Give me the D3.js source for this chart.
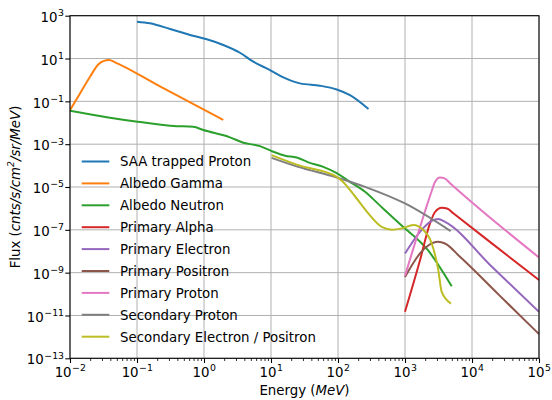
<!DOCTYPE html>
<html lang="en">
<head>
<meta charset="UTF-8">
<title>Flux</title>
<script src="https://cdn.jsdelivr.net/npm/d3@7"></script>
<style>
  body { margin: 0; background: #fff; }
  svg { font-family: "DejaVu Sans", sans-serif; display: block; }
</style>
</head>
<body>
<svg width="552" height="400" id="chart"></svg>
<script>
  // series values (energy in MeV, flux in cnts/s/cm2/sr/MeV)
  const saaEnergy = [0.1, 0.156, 0.311, 0.618, 1.1, 1.94, 3.44, 5.45, 9.66, 15.3, 27.1, 53.8, 95.7, 151, 285];
  const saaFlux = [525, 442, 240, 126, 79, 43, 18.6, 7.1, 2.9, 1.32, 0.69, 0.54, 0.36, 0.195, 0.044];

  const gammaEnergy = [0.01, 0.0141, 0.0199, 0.0264, 0.0314, 0.0386, 0.047, 0.2, 1.94];
  const gammaFlux = [0.039, 0.234, 1.41, 5.25, 7.6, 8.5, 6.6, 0.59, 0.0135];

  const neutronEnergy = [0.01, 0.0373, 0.102, 0.348, 0.692, 0.977, 2.44, 3.86, 6.85, 10.8, 16.2, 24.2, 36.1, 60.4, 95.7, 143, 253, 424, 841, 2200, 4980];
  const neutronFlux = [0.0363, 0.0178, 0.0112, 0.00708, 0.00646, 0.00457, 0.00209, 0.00117, 8.1e-4, 4.4e-4, 2.9e-4, 2.4e-4, 1.41e-4, 8.7e-5, 4.4e-5, 1.95e-5, 6.0e-6, 1.35e-6, 1.86e-7, 1.12e-8, 2.3e-10];

  const alphaEnergy = [1000, 1675, 2360, 2805, 3530, 4240, 5260, 20000, 100000];
  const alphaFlux = [1.5e-11, 3.8e-9, 2.0e-7, 6.8e-7, 1.07e-6, 1.0e-6, 5.9e-7, 2.27e-8, 4.5e-10];

  const electronEnergy = [1000, 1675, 2506, 3140, 3954, 20000, 100000];
  const electronFlux = [7.8e-9, 8.1e-8, 2.6e-7, 3.2e-7, 2.35e-7, 1.82e-9, 1.48e-11];

  const positronEnergy = [1000, 1675, 2200, 3110, 3954, 6620, 25000, 100000];
  const positronFlux = [6.2e-10, 7.9e-9, 1.8e-8, 2.75e-8, 2.3e-8, 5.5e-9, 9.4e-11, 1.35e-12];

  const protonEnergy = [1000, 1410, 1990, 2440, 2805, 3327, 3954, 4700, 10450, 100000];
  const protonFlux = [7.2e-10, 2.4e-8, 7.4e-7, 5.1e-6, 1.7e-5, 2.75e-5, 2.45e-5, 1.51e-5, 1.7e-6, 5.1e-9];

  const secProtonEnergy = [10.2, 25.5, 95.7, 253, 1000, 4800];
  const secProtonFlux = [2.3e-4, 8.7e-5, 2.8e-5, 1.02e-5, 1.7e-6, 8.7e-8];

  const secElectronEnergy = [10.2, 25.5, 95.7, 114, 179, 283, 449, 640, 893, 1330, 1875, 2506, 3140, 3530, 4860];
  const secElectronFlux = [3.1e-4, 1.05e-4, 3.0e-5, 1.95e-5, 3.7e-6, 5.9e-7, 1.38e-7, 1.02e-7, 1.17e-7, 1.66e-7, 9.8e-8, 2.3e-8, 1.32e-9, 1.26e-10, 3.6e-11];

  const seriesNames = ['SAA trapped Proton', 'Albedo Gamma', 'Albedo Neutron', 'Primary Alpha',
    'Primary Electron', 'Primary Positron', 'Primary Proton', 'Secondary Proton', 'Secondary Electron / Positron'];

  // tick exponents
  const xExponents = [-2, -1, 0, 1, 2, 3, 4, 5];
  const yExponents = [-13, -11, -9, -7, -5, -3, -1, 1, 3];

  const colors = ['#1f77b4', '#ff7f0e', '#2ca02c', '#d62728', '#9467bd', '#8c564b', '#e377c2', '#7f7f7f', '#bcbd22'];

  const energies = [saaEnergy, gammaEnergy, neutronEnergy, alphaEnergy, electronEnergy, positronEnergy, protonEnergy, secProtonEnergy, secElectronEnergy];
  const fluxes = [saaFlux, gammaFlux, neutronFlux, alphaFlux, electronFlux, positronFlux, protonFlux, secProtonFlux, secElectronFlux];
  const series = seriesNames.map((name, i) => ({
    name,
    color: colors[i],
    values: energies[i].map((e, j) => [e, fluxes[i][j]])
  }));

  const fs = 13.33;

  const svg = d3.select('#chart');
  const width = +svg.attr('width');
  const height = +svg.attr('height');
  const margin = { top: 15.7, right: 13, bottom: 41.7, left: 70 };
  const innerWidth = width - margin.left - margin.right;
  const innerHeight = height - margin.top - margin.bottom;

  const xScale = d3.scaleLog().domain([1e-2, 1e5]).range([0, innerWidth]);
  const yScale = d3.scaleLog().domain([1e-13, 1e3]).range([innerHeight, 0]);

  const g = svg.append('g')
    .attr('transform', `translate(${margin.left},${margin.top})`);

  // grid
  g.append('g').selectAll('line').data(xExponents).join('line')
    .attr('x1', d => xScale(10 ** d)).attr('x2', d => xScale(10 ** d))
    .attr('y1', 0).attr('y2', innerHeight)
    .attr('stroke', '#b0b0b0').attr('stroke-width', 1);
  g.append('g').selectAll('line').data(yExponents).join('line')
    .attr('y1', d => yScale(10 ** d)).attr('y2', d => yScale(10 ** d))
    .attr('x1', 0).attr('x2', innerWidth)
    .attr('stroke', '#b0b0b0').attr('stroke-width', 1);

  // axes
  const xMinor = [];
  xExponents.slice(0, -1).forEach(e => { for (let k = 2; k < 10; k++) xMinor.push(k * 10 ** e); });

  g.append('g').attr('class', 'major').attr('transform', `translate(0,${innerHeight})`)
    .call(d3.axisBottom(xScale).tickValues(xExponents.map(e => 10 ** e)).tickSize(4.7).tickFormat(''));
  g.append('g').attr('class', 'minor').attr('transform', `translate(0,${innerHeight})`)
    .call(d3.axisBottom(xScale).tickValues(xMinor).tickSize(2.7).tickFormat(''));
  g.append('g').attr('class', 'major')
    .call(d3.axisLeft(yScale).tickValues(yExponents.map(e => 10 ** e)).tickSize(4.7).tickFormat(''));
  g.selectAll('.domain').remove();
  g.selectAll('.tick text').remove();
  g.selectAll('.major .tick line').attr('stroke', '#000').attr('stroke-width', 1.07);
  g.selectAll('.minor .tick line').attr('stroke', '#000').attr('stroke-width', 0.8);

  // 10^e labels as two plain texts
  function powLabel(x, y, e, anchor) {
    const base = g.append('text').attr('y', y).attr('font-size', fs).attr('fill', '#000').text('10');
    const sup = g.append('text').attr('y', y - 5.8).attr('font-size', fs * 0.7).attr('fill', '#000')
      .text(e < 0 ? '\u2212' + (-e) : String(e));
    const w1 = base.node().getComputedTextLength();
    const w2 = sup.node().getComputedTextLength();
    const x0 = anchor === 'middle' ? x - (w1 + w2) / 2 : x - (w1 + w2);
    base.attr('x', x0);
    sup.attr('x', x0 + w1 + 0.5);
  }
  xExponents.forEach(e => powLabel(xScale(10 ** e), innerHeight + 18.3, e, 'middle'));
  yExponents.forEach(e => powLabel(-6.5, yScale(10 ** e) + 6.2, e, 'end'));

  // curves
  g.append('clipPath').attr('id', 'clip')
    .append('rect').attr('width', innerWidth).attr('height', innerHeight);

  const line = d3.line()
    .x(d => xScale(d[0]))
    .y(d => yScale(d[1]))
    .curve(d3.curveMonotoneX);

  g.append('g').attr('clip-path', 'url(#clip)')
    .selectAll('path').data(series).join('path')
    .attr('d', d => line(d.values))
    .attr('fill', 'none')
    .attr('stroke', d => d.color)
    .attr('stroke-width', 2)
    .attr('stroke-linejoin', 'round');

  // frame
  g.append('rect').attr('width', innerWidth).attr('height', innerHeight)
    .attr('fill', 'none').attr('stroke', '#000').attr('stroke-width', 1.07);

  // legend (no frame)
  const legend = g.append('g').attr('transform', `translate(${81.7 - margin.left},${161.5 - margin.top})`);
  series.forEach((s, i) => {
    const row = legend.append('g').attr('transform', `translate(0,${i * 21.9})`);
    row.append('line').attr('x1', 0).attr('x2', 27.6)
      .attr('stroke', s.color).attr('stroke-width', 2);
    row.append('text').attr('x', 38.3).attr('y', 4.8)
      .attr('font-size', fs).attr('fill', '#000').text(s.name);
  });

  // axis titles
  const xTitle = svg.append('text')
    .attr('x', margin.left + innerWidth / 2).attr('y', 394.5)
    .attr('text-anchor', 'middle').attr('font-size', fs).attr('fill', '#000');
  xTitle.append('tspan').text('Energy (');
  xTitle.append('tspan').attr('font-style', 'italic').text('MeV');
  xTitle.append('tspan').text(')');

  const yTitle = svg.append('text')
    .attr('transform', `translate(20,${margin.top + innerHeight / 2}) rotate(-90)`)
    .attr('text-anchor', 'middle').attr('font-size', fs).attr('fill', '#000');
  yTitle.append('tspan').text('Flux (');
  yTitle.append('tspan').attr('font-style', 'italic').text('cnts/s/cm');
  yTitle.append('tspan').attr('dy', -5.8).attr('font-size', fs * 0.7).attr('font-style', 'italic').text('2');
  yTitle.append('tspan').attr('dy', 5.8).attr('font-style', 'italic').text('/sr/MeV');
  yTitle.append('tspan').text(')');
</script>
</body>
</html>
